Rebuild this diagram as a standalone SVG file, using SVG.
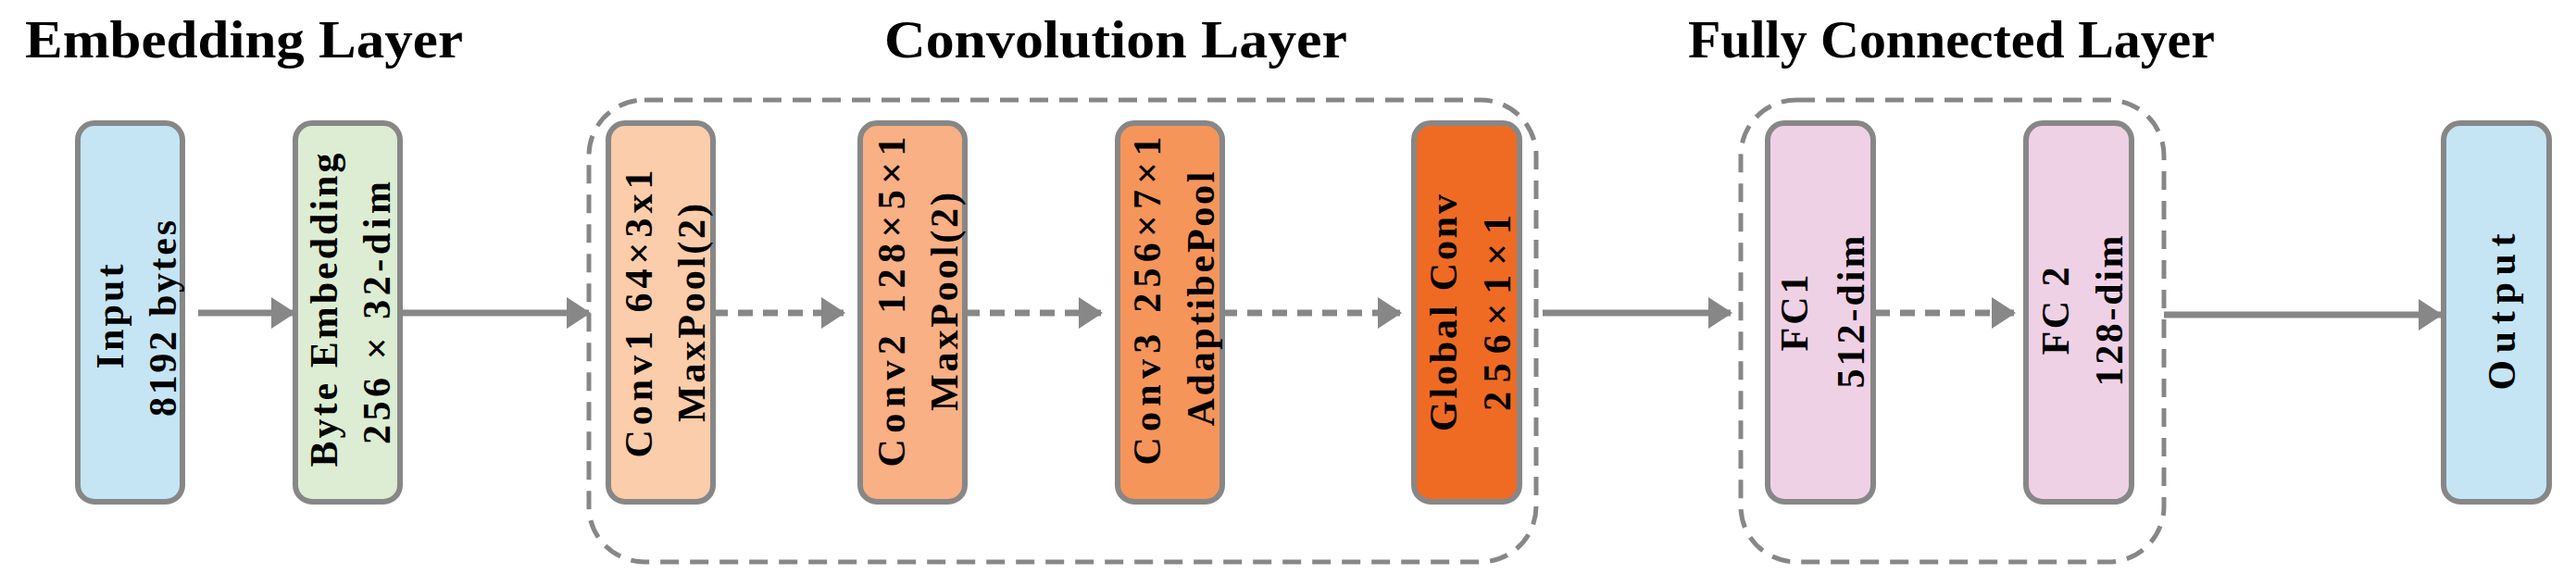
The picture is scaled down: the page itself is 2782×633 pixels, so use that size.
<svg xmlns="http://www.w3.org/2000/svg" width="2782" height="633" viewBox="0 0 2782 633">
<style>
.t{font-family:"Liberation Serif","Times New Roman",serif;font-weight:bold;fill:#000}
.ti{font-size:58px}
.l{font-size:42px;text-anchor:middle}
.box{stroke:#878787;stroke-width:6}
.grp{fill:none;stroke:#878787;stroke-width:5;stroke-dasharray:20 12}
.c{stroke:#878787;stroke-width:7;fill:none}
.d{stroke-dasharray:16 11}
</style>
<defs>
<marker id="ah" markerUnits="userSpaceOnUse" markerWidth="26" markerHeight="34" refX="24" refY="17" orient="auto">
<path d="M0,0 L26,17 L0,34 Z" fill="#878787"/>
</marker>
</defs>
<text class="t ti" x="27" y="62" textLength="473" lengthAdjust="spacingAndGlyphs">Embedding Layer</text>
<text class="t ti" x="955" y="62" textLength="500" lengthAdjust="spacingAndGlyphs">Convolution Layer</text>
<text class="t ti" x="1823" y="62" textLength="569" lengthAdjust="spacingAndGlyphs">Fully Connected Layer</text>
<rect id="conv-group" class="grp" x="636" y="108" width="1023" height="499" rx="60"/>
<rect id="fc-group" class="grp" x="1880" y="108" width="457" height="499" rx="60"/>
<g id="connectors">
<line class="c" x1="214" y1="338" x2="317" y2="338" marker-end="url(#ah)"/>
<line class="c" x1="433" y1="338" x2="636" y2="338" marker-end="url(#ah)"/>
<line class="c d" x1="770" y1="338" x2="911" y2="338" marker-end="url(#ah)"/>
<line class="c d" x1="1042" y1="338" x2="1189" y2="338" marker-end="url(#ah)"/>
<line class="c d" x1="1320" y1="338" x2="1512" y2="338" marker-end="url(#ah)"/>
<line class="c" x1="1666" y1="338" x2="1869" y2="338" marker-end="url(#ah)"/>
<line class="c d" x1="2025" y1="338" x2="2175" y2="338" marker-end="url(#ah)"/>
<line class="c" x1="2337" y1="340" x2="2636" y2="340" marker-end="url(#ah)"/>
</g>
<g id="input">
<rect class="box" x="84" y="133" width="113" height="409" rx="18" fill="#C5E5F5"/>
<text class="t l" transform="translate(133,342) rotate(-90)" textLength="113">Input</text>
<text class="t l" transform="translate(190,344) rotate(-90)" textLength="212">8192 bytes</text>
</g>
<g id="byte-embedding">
<rect class="box" x="319" y="133" width="113" height="409" rx="18" fill="#DCEDD3"/>
<text class="t l" transform="translate(364,335) rotate(-90)" textLength="339">Byte Embedding</text>
<text class="t l" transform="translate(421,338) rotate(-90)" textLength="284">256 × 32-dim</text>
</g>
<g id="conv1">
<rect class="box" x="657" y="133" width="113" height="409" rx="18" fill="#FBCDAA"/>
<text class="t l" transform="translate(704,339) rotate(-90)" textLength="311">Conv1 64×3x1</text>
<text class="t l" transform="translate(761,338) rotate(-90)" textLength="236">MaxPool(2)</text>
</g>
<g id="conv2">
<rect class="box" x="929" y="133" width="113" height="409" rx="18" fill="#F8B084"/>
<text class="t l" transform="translate(977,326) rotate(-90)" textLength="357">Conv2 128×5×1</text>
<text class="t l" transform="translate(1034,326) rotate(-90)" textLength="236">MaxPool(2)</text>
</g>
<g id="conv3">
<rect class="box" x="1207" y="133" width="113" height="409" rx="18" fill="#F5955A"/>
<text class="t l" transform="translate(1253,325) rotate(-90)" textLength="355">Conv3 256×7×1</text>
<text class="t l" transform="translate(1311,323) rotate(-90)" textLength="275">AdaptibePool</text>
</g>
<g id="global-conv">
<rect class="box" x="1527" y="133" width="114" height="409" rx="18" fill="#EF6B24"/>
<text class="t l" transform="translate(1573,338) rotate(-90)" textLength="256">Global Conv</text>
<text class="t l" transform="translate(1631,338) rotate(-90)" textLength="212">256×1×1</text>
</g>
<g id="fc1">
<rect class="box" x="1909" y="133" width="114" height="409" rx="18" fill="#EFD1E6"/>
<text class="t l" transform="translate(1952,338) rotate(-90)" textLength="83">FC1</text>
<text class="t l" transform="translate(2013,337) rotate(-90)" textLength="165">512-dim</text>
</g>
<g id="fc2">
<rect class="box" x="2188" y="133" width="114" height="409" rx="18" fill="#EFD1E6"/>
<text class="t l" transform="translate(2234,336) rotate(-90)" textLength="95">FC 2</text>
<text class="t l" transform="translate(2292,336) rotate(-90)" textLength="163">128-dim</text>
</g>
<g id="output">
<rect class="box" x="2639" y="133" width="114" height="409" rx="18" fill="#C5E5F5"/>
<text class="t l" transform="translate(2716,337) rotate(-90)" textLength="169">Output</text>
</g>
</svg>
